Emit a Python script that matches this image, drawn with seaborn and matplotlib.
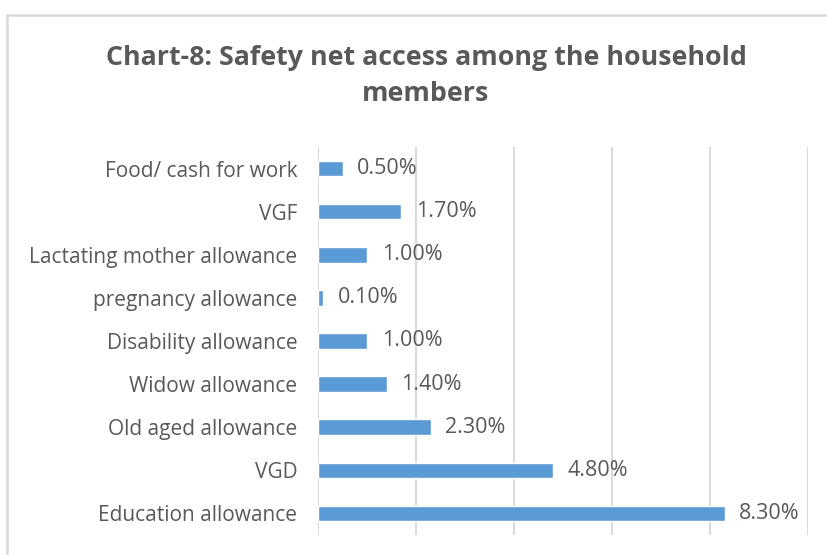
import matplotlib
matplotlib.use("Agg")
import matplotlib.pyplot as plt
from matplotlib.patches import Rectangle
import seaborn as sns
import pandas as pd

categories = [
    "Food/ cash for work",
    "VGF",
    "Lactating mother allowance",
    "pregnancy allowance",
    "Disability allowance",
    "Widow allowance",
    "Old aged allowance",
    "VGD",
    "Education allowance",
]
shares = [0.5, 1.7, 1.0, 0.1, 1.0, 1.4, 2.3, 4.8, 8.3]
x_ticks = [0, 2, 4, 6, 8, 10]
title = "Chart-8: Safety net access among the household\nmembers"

sns.set_theme(style="white")
plt.rcParams["font.family"] = ["Open Sans", "DejaVu Sans"]

text_grey = "#595959"
grid_grey = "#d9d9d9"
bar_blue = "#5b9bd5"

df = pd.DataFrame({"program": categories, "share": shares})

W, H = 827, 555
fig = plt.figure(figsize=(W / 100, H / 100), dpi=100)
ax = fig.add_axes([318 / W, 1 - 535 / H, (808 - 318) / W, (535 - 147) / H])

sns.barplot(data=df, x="share", y="program", order=categories, orient="h",
            color=bar_blue, saturation=1, width=0.36, ax=ax, zorder=3)

ax.set_xlim(0, 10)
ax.set_ylim(len(categories) - 0.5, -0.5)
ax.set_xticks(x_ticks)
ax.set_xticklabels([])
ax.tick_params(axis="x", length=0)
ax.tick_params(axis="y", length=0, labelsize=15, labelcolor=text_grey, pad=15)
ax.xaxis.grid(True, color=grid_grey, linewidth=1.4, zorder=0)
ax.yaxis.grid(False)
for s in ax.spines.values():
    s.set_visible(False)
ax.set_xlabel("")
ax.set_ylabel("")

for i, v in enumerate(shares):
    ax.annotate(f"{v:.2f}%", xy=(v, i), xytext=(10.5, 0), textcoords="offset points",
                ha="left", va="center", fontsize=15.5, color=text_grey, zorder=4)

fig.text(0.5 * (108 + 744) / W, 1 - 76 / H, title, ha="center", va="center",
         fontsize=19.3, fontweight="bold", color=text_grey, linespacing=1.5)

# outer chart frame
fig.patches.append(Rectangle((7 / W, -0.1), 1.2, 1 - 15 / H + 0.1,
                             transform=fig.transFigure, fill=False,
                             edgecolor=grid_grey, linewidth=1.8, clip_on=False))

fig.savefig("out.png", dpi=100, facecolor="white")
